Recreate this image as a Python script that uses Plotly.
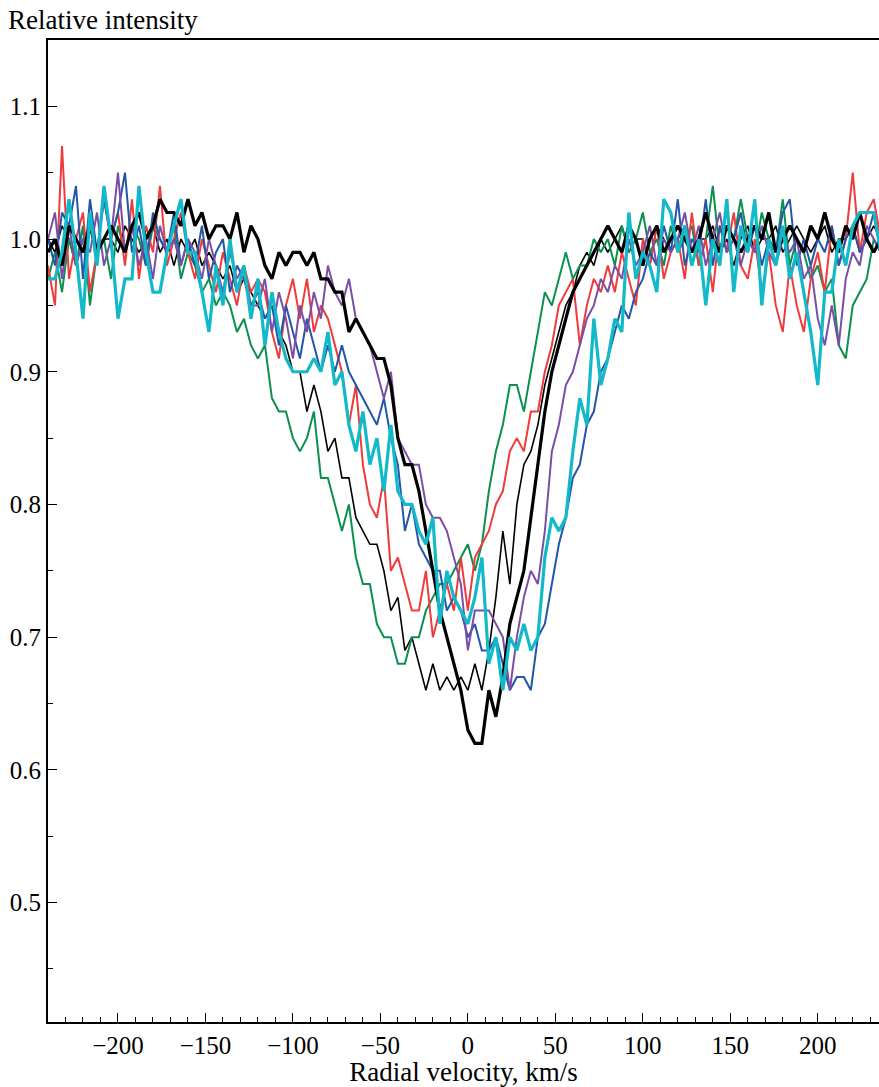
import plotly.graph_objects as go

# Radial velocity grid (km/s), step 4
velocity = list(range(-240, 240, 4))

thick_black = [
    0.99, 1.00, 0.98, 1.01, 1.00, 0.99, 1.01, 0.99, 1.00, 1.01,
    1.00, 0.99, 1.01, 1.02, 1.00, 1.01, 1.03, 1.02, 1.02, 1.01,
    1.03, 1.01, 1.02, 1.00, 1.01, 1.01, 1.00, 1.02, 0.99, 1.01,
    1.00, 0.98, 0.97, 0.99, 0.98, 0.99, 0.99, 0.98, 0.99, 0.97,
    0.97, 0.96, 0.96, 0.93, 0.94, 0.93, 0.92, 0.91, 0.91, 0.89,
    0.85, 0.83, 0.83, 0.81, 0.78, 0.75, 0.72, 0.70, 0.68, 0.66,
    0.63, 0.62, 0.62, 0.66, 0.64, 0.67, 0.71, 0.73, 0.75, 0.79,
    0.83, 0.87, 0.90, 0.92, 0.94, 0.96, 0.97, 0.98, 0.99, 1.00,
    1.01, 1.00, 0.99, 1.01, 1.00, 0.98, 1.00, 1.01, 0.99, 1.00,
    1.01, 1.00, 0.99, 1.00, 1.02, 1.00, 0.99, 1.01, 1.00, 0.99,
    1.00, 1.01, 1.00, 1.02, 0.99, 1.00, 1.01, 1.00, 0.99, 1.01,
    1.00, 1.02, 1.00, 0.99, 1.01, 1.00, 1.02, 1.00, 0.99, 1.00,
]

thin_black = [
    1.00, 0.99, 1.01, 1.00, 0.98, 1.00, 1.01, 0.99, 1.00, 1.00,
    0.99, 1.01, 1.00, 0.99, 1.00, 1.01, 0.99, 1.00, 0.98, 1.00,
    0.99, 1.00, 0.98, 0.99, 0.98, 0.97, 0.98, 0.96, 0.97, 0.96,
    0.95, 0.94, 0.95, 0.93, 0.92, 0.90, 0.90, 0.87, 0.89, 0.87,
    0.84, 0.85, 0.82, 0.82, 0.79, 0.78, 0.77, 0.77, 0.75, 0.72,
    0.73, 0.69, 0.70, 0.68, 0.66, 0.68, 0.66, 0.67, 0.66, 0.67,
    0.66, 0.68, 0.66, 0.69, 0.73, 0.78, 0.74, 0.80, 0.83, 0.84,
    0.86, 0.89, 0.91, 0.93, 0.95, 0.96, 0.98, 0.99, 0.98, 1.00,
    0.99, 1.00, 1.01, 0.99, 1.00, 1.00, 0.98, 1.01, 1.00, 0.99,
    1.00, 1.01, 0.99, 1.00, 1.00, 1.01, 0.99, 1.00, 0.98, 1.00,
    1.01, 0.99, 1.00, 1.00, 1.01, 0.99, 1.00, 1.01, 1.00, 0.99,
    1.00, 1.01, 0.99, 1.00, 1.00, 1.01, 0.99, 1.00, 1.01, 1.00,
]

red = [
    0.98, 0.95, 1.07, 0.97, 1.00, 1.02, 0.96, 0.99, 1.03, 1.00,
    1.02, 0.98, 1.03, 0.97, 1.01, 0.99, 1.04, 0.98, 1.00, 1.02,
    0.99, 0.97, 1.00, 0.98, 0.96, 0.99, 0.97, 0.95, 0.98, 0.96,
    0.97, 0.96, 0.93, 0.91, 0.95, 0.97, 0.94, 0.97, 0.93, 0.95,
    0.94, 0.92, 0.90, 0.86, 0.89, 0.83, 0.80, 0.79, 0.82, 0.75,
    0.76, 0.74, 0.72, 0.72, 0.75, 0.70, 0.72, 0.74, 0.72, 0.76,
    0.72, 0.76, 0.77, 0.78, 0.80, 0.81, 0.84, 0.85, 0.84, 0.87,
    0.87, 0.90, 0.92, 0.95, 0.96, 0.97, 0.92, 0.95, 0.97, 0.96,
    0.98, 0.96, 0.99, 0.97, 0.95, 1.00, 0.98, 1.01, 0.97, 0.99,
    1.00, 0.97, 1.02, 0.98, 1.00, 0.96, 1.01, 0.99, 1.02, 0.98,
    0.97, 1.00, 0.96, 0.99, 0.95, 0.93, 0.98, 0.95, 0.93, 0.97,
    0.99, 0.96, 1.01, 0.98, 1.00, 1.05, 0.99, 1.02, 1.03, 1.00,
]

blue = [
    1.00, 0.98, 1.02, 1.01, 1.04, 0.97, 1.03, 0.99, 1.03, 1.00,
    1.02, 1.05, 0.99, 1.01, 0.98, 1.02, 1.00, 0.99, 1.02, 0.98,
    1.00, 0.98, 1.01, 0.97, 0.99, 1.00, 0.96, 0.98, 0.97, 0.95,
    0.96, 0.94, 0.95, 0.92, 0.95, 0.93, 0.91, 0.94, 0.92, 0.90,
    0.92, 0.90, 0.92, 0.90, 0.89, 0.88, 0.87, 0.86, 0.88, 0.85,
    0.83, 0.78, 0.80, 0.77, 0.76, 0.75, 0.75, 0.72, 0.73, 0.72,
    0.70, 0.71, 0.69, 0.69, 0.70, 0.68, 0.66, 0.67, 0.67, 0.66,
    0.70, 0.71, 0.74, 0.77, 0.79, 0.82, 0.83, 0.86, 0.87, 0.90,
    0.91, 0.93, 0.95, 0.94, 0.96, 0.97, 0.99, 0.98, 1.01, 0.99,
    1.03, 0.98, 1.00, 0.99, 1.03, 0.98, 1.01, 0.99, 1.00, 1.02,
    0.99, 1.01, 0.98, 1.00, 0.99, 1.02, 1.03, 0.98, 1.00, 0.98,
    1.00, 0.99, 1.01, 0.98, 1.00, 1.01, 0.99, 1.00, 1.02, 0.99,
]

purple = [
    1.00, 1.02, 0.97, 1.01, 0.98, 1.00, 0.99, 1.02, 0.98, 1.00,
    1.05, 0.99, 1.01, 0.98, 1.00, 0.97, 1.01, 0.99, 1.00, 0.98,
    1.00, 0.99, 0.97, 1.00, 0.98, 0.96, 0.99, 0.97, 0.98, 0.95,
    0.95, 0.97, 0.93, 0.96, 0.94, 0.91, 0.95, 0.93, 0.96, 0.94,
    0.98, 0.96, 0.95, 0.97, 0.94, 0.93, 0.92, 0.90, 0.88, 0.90,
    0.85, 0.84, 0.83, 0.83, 0.80, 0.79, 0.79, 0.78, 0.76, 0.74,
    0.69, 0.72, 0.72, 0.72, 0.71, 0.70, 0.66, 0.70, 0.73, 0.75,
    0.74, 0.78, 0.84, 0.86, 0.89, 0.90, 0.92, 0.94, 0.95, 0.97,
    0.96, 0.98, 0.97, 1.00, 0.98, 0.99, 1.01, 0.98, 1.00, 0.99,
    1.00, 1.02, 0.99, 1.01, 0.98, 1.00, 1.02, 0.99, 1.00, 0.98,
    1.00, 0.99, 1.01, 0.99, 0.98, 1.00, 0.99, 1.00, 0.97, 0.98,
    0.94, 0.92, 0.95, 0.92, 0.97, 0.99, 0.98, 1.01, 1.00, 0.99,
]

green = [
    0.97, 0.99, 0.96, 1.00, 0.98, 1.01, 0.95, 0.99, 1.00, 0.97,
    1.01, 0.99, 1.01, 1.00, 0.98, 1.01, 1.00, 0.99, 1.01, 0.97,
    0.99, 0.98, 0.96, 0.97, 0.95, 0.96, 0.95, 0.93, 0.94, 0.92,
    0.91, 0.92, 0.88, 0.87, 0.87, 0.85, 0.84, 0.85, 0.87, 0.82,
    0.82, 0.80, 0.78, 0.80, 0.76, 0.74, 0.74, 0.71, 0.70, 0.70,
    0.68, 0.68, 0.70, 0.70, 0.72, 0.73, 0.74, 0.74, 0.75, 0.76,
    0.77, 0.75, 0.77, 0.81, 0.84, 0.86, 0.89, 0.89, 0.87, 0.90,
    0.93, 0.96, 0.95, 0.97, 0.99, 0.97, 0.98, 0.98, 1.00, 0.99,
    1.00, 0.98, 1.01, 0.99, 1.00, 1.02, 0.99, 1.00, 0.98, 1.01,
    0.99, 1.00, 1.01, 0.98, 1.00, 1.04, 0.99, 1.01, 1.00, 1.03,
    1.00, 0.99, 1.02, 1.00, 0.99, 1.03, 0.98, 1.00, 0.99, 0.97,
    0.98, 0.96, 0.97, 0.92, 0.91, 0.95, 0.96, 0.97, 1.00, 0.99,
]

cyan = [
    0.97, 0.97, 0.99, 1.03, 0.99, 0.94, 1.02, 0.98, 1.04, 1.00,
    0.94, 0.97, 0.97, 1.04, 0.99, 0.96, 0.96, 0.99, 1.01, 1.03,
    0.99, 0.99, 0.96, 0.93, 0.98, 0.95, 1.00, 0.96, 0.98, 0.94,
    0.97, 0.92, 0.96, 0.93, 0.91, 0.90, 0.90, 0.90, 0.91, 0.90,
    0.93, 0.89, 0.90, 0.86, 0.84, 0.87, 0.83, 0.85, 0.81, 0.86,
    0.81, 0.80, 0.80, 0.78, 0.77, 0.79, 0.71, 0.75, 0.73, 0.72,
    0.71, 0.73, 0.76, 0.68, 0.70, 0.66, 0.70, 0.69, 0.71, 0.69,
    0.70, 0.76, 0.79, 0.78, 0.79, 0.84, 0.88, 0.86, 0.94, 0.89,
    0.91, 0.94, 0.93, 1.02, 0.97, 0.99, 0.98, 0.96, 1.03, 1.02,
    0.99, 1.01, 0.98, 1.00, 0.95, 1.00, 0.98, 1.03, 0.96, 1.01,
    0.99, 1.03, 0.95, 1.00, 0.98, 1.01, 0.97, 0.99, 0.96, 0.93,
    0.89, 0.96, 0.96, 1.00, 0.98, 1.01, 1.02, 1.02, 1.02, 0.99,
]

x_ticks = [-200, -150, -100, -50, 0, 50, 100, 150, 200]
y_ticks = [0.5, 0.6, 0.7, 0.8, 0.9, 1.0, 1.1]

series = [
    ("thin black", thin_black, "#000000", 1.6),
    ("green", green, "#0a9150", 2.0),
    ("red", red, "#ee3b3b", 2.0),
    ("blue", blue, "#2456a8", 2.0),
    ("purple", purple, "#7a4ea6", 2.0),
    ("thick black", thick_black, "#000000", 3.2),
    ("cyan", cyan, "#12b9c9", 3.2),
]

fig = go.Figure()
for name, ys, color, w in series:
    fig.add_trace(go.Scatter(x=velocity, y=ys, mode="lines", name=name,
                             line=dict(color=color, width=w)))

font_family = "Liberation Serif"
FS = 25
FT = 27
W, H = 879, 1087
L, R, T, B = 48, 0, 40, 65
pw = W - L - R
ph = H - T - B

fig.update_layout(
    width=W, height=H,
    margin=dict(l=L, r=R, t=T, b=B),
    paper_bgcolor="white", plot_bgcolor="white",
    showlegend=False,
    font=dict(family=font_family, size=FS, color="black"),
)

fig.update_xaxes(
    range=[-240, 235], tickvals=x_ticks,
    ticks="inside", ticklen=9, tickwidth=1.3, tickcolor="black",
    showline=True, linecolor="black", linewidth=2, mirror=True,
    showgrid=False, zeroline=False,
    minor=dict(dtick=10, tick0=0, ticks="inside", ticklen=5, tickcolor="black", tickwidth=1),
    title=dict(text="Radial velocity, km/s", standoff=10, font=dict(size=FT)),
    tickfont=dict(size=FS),
)
fig.update_yaxes(
    range=[0.41, 1.15], tickvals=y_ticks, tickformat=".1f",
    ticks="inside", ticklen=9, tickwidth=1.3, tickcolor="black",
    showline=True, linecolor="black", linewidth=2,
    showgrid=False, zeroline=False,
    minor=dict(dtick=0.05, tick0=0, ticks="inside", ticklen=5, tickcolor="black", tickwidth=1),
    tickfont=dict(size=FS),
)

fig.add_annotation(
    text="Relative intensity", xref="paper", yref="paper",
    x=(6 - L) / pw, y=1 + (T - 20) / ph, xanchor="left", yanchor="middle",
    showarrow=False, font=dict(size=FT, family=font_family),
)

fig.write_html("out.html")
